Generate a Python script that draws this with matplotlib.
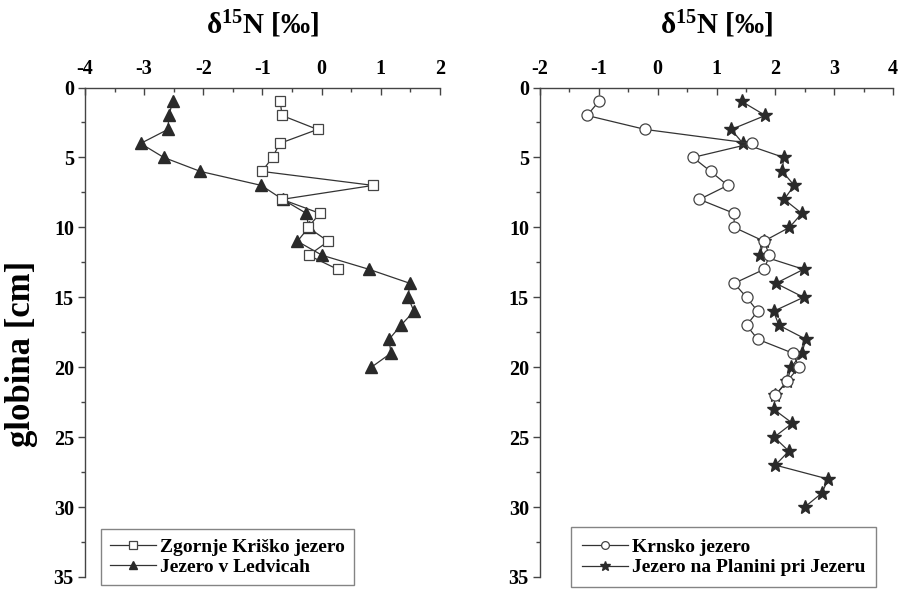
import matplotlib
matplotlib.use('Agg')
import matplotlib.pyplot as plt

plt.rcParams['font.family'] = ['Liberation Serif', 'DejaVu Serif']
plt.rcParams['font.weight'] = 'bold'
plt.rcParams['mathtext.fontset'] = 'custom'
plt.rcParams['mathtext.bf'] = 'Liberation Serif:bold'
plt.rcParams['mathtext.rm'] = 'Liberation Serif:bold'
plt.rcParams['mathtext.default'] = 'bf'

# --- data: depth [cm] and d15N [permil] ---
depth_zgornje = list(range(1, 14))
d15n_zgornje = [-0.70, -0.67, -0.07, -0.71, -0.83, -1.01, 0.87, -0.67, -0.03,
                -0.23, 0.11, -0.22, 0.27]

depth_ledvice = list(range(1, 21))
d15n_ledvice = [-2.52, -2.58, -2.60, -3.06, -2.67, -2.05, -1.02, -0.66, -0.26,
                -0.22, -0.41, 0.01, 0.80, 1.49, 1.46, 1.56, 1.34, 1.14, 1.17, 0.84]

depth_krnsko = list(range(1, 23))
d15n_krnsko = [-1.00, -1.20, -0.21, 1.60, 0.60, 0.90, 1.19, 0.71, 1.30, 1.30,
               1.81, 1.90, 1.81, 1.30, 1.51, 1.70, 1.51, 1.70, 2.30, 2.40, 2.20, 2.00]

depth_planina = list(range(1, 31))
d15n_planina = [1.43, 1.83, 1.25, 1.45, 2.14, 2.12, 2.32, 2.15, 2.45, 2.24,
                1.80, 1.74, 2.48, 2.01, 2.48, 1.97, 2.06, 2.52, 2.45, 2.27,
                2.20, 2.00, 1.97, 2.29, 1.98, 2.23, 2.00, 2.90, 2.79, 2.50]

W, H = 902, 589
fig = plt.figure(figsize=(W / 100, H / 100), dpi=100)
fig.patch.set_facecolor('white')

ax_bottom = 1 - 577 / H
ax_top = 1 - 87.5 / H
ax1 = fig.add_axes([85 / W, ax_bottom, (440 - 85) / W, ax_top - ax_bottom])
ax2 = fig.add_axes([540 / W, ax_bottom, (893 - 540) / W, ax_top - ax_bottom])

line_c = '#333333'
edge_c = '#444444'

# left panel
ax1.plot(d15n_ledvice, depth_ledvice, '-', color=line_c, lw=0.9, marker='^',
         ms=9, mfc='#2a2a2a', mec='#2a2a2a', label='Jezero v Ledvicah', zorder=3)
ax1.plot(d15n_zgornje, depth_zgornje, '-', color=line_c, lw=0.9, marker='s',
         ms=7.5, mfc='white', mec=edge_c, mew=0.9, label='Zgornje Kriško jezero', zorder=4)
ax1.set_xlim(-4, 2)

# right panel
ax2.plot(d15n_planina, depth_planina, '-', color=line_c, lw=0.9, marker='*',
         ms=10, mfc='#2a2a2a', mec='#2a2a2a', label='Jezero na Planini pri Jezeru', zorder=3)
ax2.plot(d15n_krnsko, depth_krnsko, '-', color=line_c, lw=0.9, marker='o',
         ms=8, mfc='white', mec=edge_c, mew=0.9, label='Krnsko jezero', zorder=4)
ax2.set_xlim(-2, 4)

for ax in (ax1, ax2):
    ax.set_ylim(35, 0)
    ax.spines['right'].set_visible(False)
    ax.spines['bottom'].set_visible(False)
    for s in ('left', 'top'):
        ax.spines[s].set_color('#444444')
        ax.spines[s].set_linewidth(1.0)
    ax.xaxis.tick_top()
    lo, hi = int(ax.get_xlim()[0]), int(ax.get_xlim()[1])
    ax.set_xticks(range(lo, hi + 1))
    ax.set_xticks([x + 0.5 for x in range(lo, hi)], minor=True)
    ax.set_yticks(range(0, 36, 5))
    ax.set_yticks([y + 2.5 for y in range(0, 35, 5)], minor=True)
    ax.tick_params(axis='x', which='both', direction='in', top=True, bottom=False,
                   color='#444444', labelsize=14.5, pad=6)
    ax.tick_params(axis='x', which='major', length=5, width=1)
    ax.tick_params(axis='x', which='minor', length=3, width=1)
    ax.tick_params(axis='y', which='both', direction='out', color='#444444',
                   labelsize=14.5, pad=3)
    ax.tick_params(axis='y', which='major', length=5, width=1)
    ax.tick_params(axis='y', which='minor', length=3, width=1)
    ax.set_xticklabels([f'{t}' for t in range(lo, hi + 1)], fontweight='bold')
    for lab in ax.get_yticklabels():
        lab.set_fontweight('bold')

    # title above x axis
    bb = ax.get_position()
    fig.text((bb.x0 + bb.x1) / 2, 1 - 24 / H, r'δ$^{15}$N [‰]', fontsize=21,
             fontweight='bold', ha='center', va='center')

fig.text(22 / W, 1 - 354 / H, 'globina [cm]', fontsize=25, fontweight='bold',
         rotation=90, ha='center', va='center')

# legends
h1, l1 = ax1.get_legend_handles_labels()
leg1 = ax1.legend(h1[::-1], l1[::-1], loc='lower left',
                  bbox_to_anchor=(101 / W, 1 - 585 / H), bbox_transform=fig.transFigure,
                  borderaxespad=0, frameon=True, fancybox=False, markerscale=0.7,
                  edgecolor='#666666', handlelength=2.4, handletextpad=0.2,
                  labelspacing=0.15, borderpad=0.45, prop={'weight': 'bold', 'size': 14})
leg1.get_frame().set_linewidth(1.0)

h2, l2 = ax2.get_legend_handles_labels()
leg2 = ax2.legend(h2[::-1], l2[::-1], loc='lower left',
                  bbox_to_anchor=(571 / W, 1 - 587 / H), bbox_transform=fig.transFigure,
                  borderaxespad=0, frameon=True, fancybox=False, markerscale=0.7,
                  edgecolor='#666666', handlelength=2.4, handletextpad=0.2,
                  labelspacing=0.15, borderpad=0.55, prop={'weight': 'bold', 'size': 14})
leg2.get_frame().set_linewidth(1.0)

fig.savefig('out.png', dpi=100, facecolor='white')
